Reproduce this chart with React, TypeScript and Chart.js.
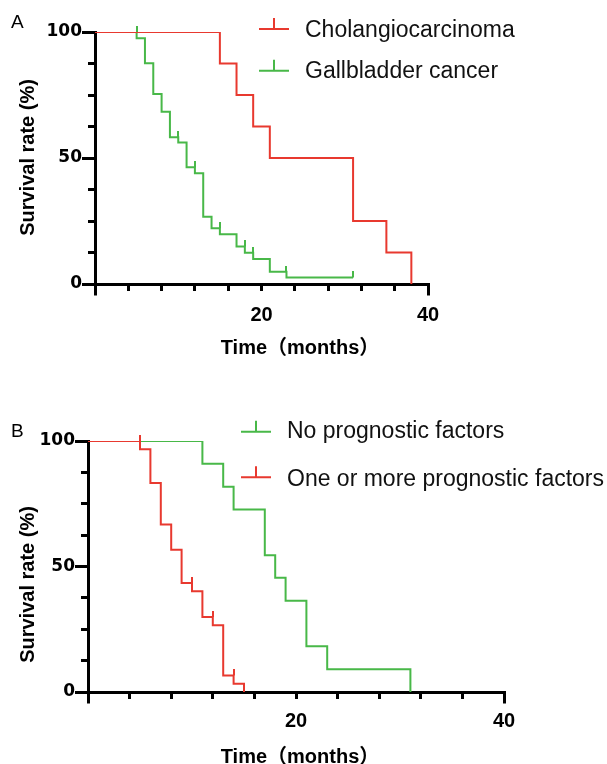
import React, { useEffect, useRef } from 'react';
import { Chart, registerables } from 'chart.js';

Chart.register(...registerables);

const RED = '#E8392F';
const GREEN = '#48B848';

// Shared axes
const X_MIN = 0;
const X_MAX = 40;
const X_STEP = 4;
const Y_MIN = 0;
const Y_MAX = 100;
const Y_STEP = 12.5;
const X_TICK_LABELS = [20, 40];
const Y_TICK_LABELS = [0, 50, 100];
const X_TITLE = 'Time（months）';
const Y_TITLE = 'Survival rate (%)';

// Panel A
const A_LETTER = 'A';
const A_CHOL_LABEL = 'Cholangiocarcinoma';
const A_CHOL_TIME = [0, 15, 17, 19, 21, 31, 35, 38];
const A_CHOL_SURV = [100, 87.5, 75, 62.5, 50, 25, 12.5, 0];
const A_CHOL_CENS_TIME: number[] = [];
const A_CHOL_CENS_SURV: number[] = [];

const A_GB_LABEL = 'Gallbladder cancer';
const A_GB_TIME = [0, 5, 6, 7, 8, 9, 10, 11, 12, 13, 14, 15, 17, 18, 19, 21, 23, 31];
const A_GB_SURV = [100, 97.5, 87.6, 75.4, 68.4, 58.2, 56.2, 46.3, 43.9, 26.7, 22.1, 19.7, 14.9, 12.4, 9.9, 4.9, 2.6, 2.6];
const A_GB_CENS_TIME = [5, 10, 12, 15, 18, 19, 23, 31];
const A_GB_CENS_SURV = [100, 58.2, 46.3, 22.1, 14.9, 12.4, 4.9, 2.6];

// Panel B
const B_LETTER = 'B';
const B_NONE_LABEL = 'No prognostic factors';
const B_NONE_TIME = [0, 11, 13, 14, 17, 18, 19, 21, 23, 31];
const B_NONE_SURV = [100, 90.9, 81.8, 72.7, 54.5, 45.5, 36.4, 18.2, 9.1, 0];
const B_NONE_CENS_TIME: number[] = [];
const B_NONE_CENS_SURV: number[] = [];

const B_ONE_LABEL = 'One or more prognostic factors';
const B_ONE_TIME = [0, 5, 6, 7, 8, 9, 10, 11, 12, 13, 14, 15];
const B_ONE_SURV = [100, 96.7, 83.3, 66.7, 56.7, 43.4, 40.1, 29.9, 26.6, 6.6, 3.3, 0];
const B_ONE_CENS_TIME = [5, 10, 12, 14];
const B_ONE_CENS_SURV = [100, 43.4, 29.9, 6.6];

type Series = { label: string; color: string; t: number[]; s: number[]; ct: number[]; cs: number[] };

const W = 607;
const TICK_FONT_X = '"Liberation Sans", Arial, sans-serif';
const TICK_FONT_Y = '"DejaVu Sans", "Liberation Sans", sans-serif';
const TITLE_FONT = 'bold 20px "Liberation Sans", "Noto Sans CJK SC", sans-serif';
const LEGEND_FONT = '23px "Liberation Sans", Arial, sans-serif';
const LETTER_FONT = '19px "Liberation Sans", Arial, sans-serif';

const LAYOUT_A = {
  top: 0,
  height: 380,
  area: { left: 95, top: 32, right: 428, bottom: 284 },
  xPad: 12,
  yPad: 6,
  yTitle: { x: 34.3, y: 157.5 },
  xTitle: { x: 300, y: 354 },
  letter: { x: 11, y: 28 },
  legend: { symX: 259, symW: 30, textX: 305, rows: [{ lineY: 29, textY: 36.5 }, { lineY: 70.7, textY: 78 }] },
};

const LAYOUT_B = {
  top: 380,
  height: 384,
  area: { left: 88, top: 61, right: 504, bottom: 312 },
  xPad: 10,
  yPad: 6,
  yTitle: { x: 33.5, y: 204.5 },
  xTitle: { x: 300, y: 383 },
  letter: { x: 11, y: 57 },
  legend: { symX: 241, symW: 30, textX: 287, rows: [{ lineY: 51.7, textY: 58.3 }, { lineY: 97.3, textY: 106 }] },
};

function censorImage(color: string) {
  const c = document.createElement('canvas');
  c.width = 2;
  c.height = 12;
  const g = c.getContext('2d')!;
  g.fillStyle = color;
  g.fillRect(0, 0, 2, 6);
  return c;
}

function decorPlugin(L: any, legendItems: { label: string; color: string }[], letter: string) {
  return {
    id: 'decor',
    afterDraw(chart: any) {
      const { ctx, chartArea: ca } = chart;
      const xs = chart.scales.x;
      const ys = chart.scales.y;
      const al = (p: number, w: number) => Math.round(p - w / 2) + w / 2;
      ctx.save();
      ctx.strokeStyle = '#000';
      ctx.lineWidth = 3;
      ctx.lineCap = 'butt';
      Y_TICK_LABELS.forEach((v) => {
        const p = al(ys.getPixelForValue(v), 3);
        ctx.beginPath();
        ctx.moveTo(ca.left - 13, p);
        ctx.lineTo(ca.left - 6, p);
        ctx.stroke();
      });
      [xs.min, xs.max].forEach((v: number) => {
        const p = al(xs.getPixelForValue(v), 3);
        ctx.beginPath();
        ctx.moveTo(p, ca.bottom + 6);
        ctx.lineTo(p, ca.bottom + 11.5);
        ctx.stroke();
      });
      ctx.fillStyle = '#000';
      ctx.font = TITLE_FONT;
      ctx.textAlign = 'center';
      ctx.textBaseline = 'alphabetic';
      ctx.save();
      ctx.translate(L.yTitle.x, L.yTitle.y);
      ctx.rotate(-Math.PI / 2);
      ctx.fillText(Y_TITLE, 0, 0);
      ctx.restore();
      ctx.fillText(X_TITLE, L.xTitle.x, L.xTitle.y);

      ctx.font = LETTER_FONT;
      ctx.textAlign = 'left';
      ctx.fillText(letter, L.letter.x, L.letter.y);

      ctx.font = LEGEND_FONT;
      legendItems.forEach((it, i) => {
        const r = L.legend.rows[i];
        ctx.strokeStyle = it.color;
        ctx.lineWidth = 2;
        ctx.beginPath();
        ctx.moveTo(L.legend.symX, r.lineY);
        ctx.lineTo(L.legend.symX + L.legend.symW, r.lineY);
        const cx = L.legend.symX + L.legend.symW / 2;
        ctx.moveTo(cx, r.lineY);
        ctx.lineTo(cx, r.lineY - 11);
        ctx.stroke();
        ctx.fillStyle = '#111';
        ctx.fillText(it.label, L.legend.textX, r.textY);
      });
      ctx.restore();
    },
  };
}

function KMPanel({ L, series, legendItems, letter }: { L: any; series: Series[]; legendItems: { label: string; color: string }[]; letter: string }) {
  const ref = useRef<HTMLCanvasElement | null>(null);
  useEffect(() => {
    const canvas = ref.current!;
    const datasets: any[] = [];
    series.forEach((s) => {
      datasets.push({
        type: 'line',
        label: s.label + ' censored',
        data: s.ct.map((t, i) => ({ x: t, y: s.cs[i] })),
        showLine: false,
        pointStyle: censorImage(s.color),
        pointRadius: 3,
        clip: false,
      });
    });
    series.forEach((s) => {
      datasets.push({
        type: 'line',
        label: s.label,
        data: s.t.map((t, i) => ({ x: t, y: s.s[i] })),
        stepped: true,
        borderColor: s.color,
        borderWidth: 2,
        pointRadius: 0,
        fill: false,
        tension: 0,
      });
    });
    const H = L.height;
    const chart = new Chart(canvas, {
      type: 'line',
      data: { datasets },
      options: {
        responsive: false,
        animation: false,
        devicePixelRatio: 1,
        events: [],
        layout: { padding: { top: L.area.top, right: W - L.area.right, left: 0, bottom: 0 } },
        plugins: { legend: { display: false }, tooltip: { enabled: false } },
        scales: {
          x: {
            type: 'linear',
            min: X_MIN,
            max: X_MAX,
            afterFit: (s: any) => {
              s.height = H - L.area.bottom;
            },
            border: { display: true, width: 3, color: '#000' },
            grid: { display: true, drawOnChartArea: false, drawTicks: true, tickLength: 7, lineWidth: 3, color: '#000' },
            ticks: {
              stepSize: X_STEP,
              autoSkip: false,
              maxRotation: 0,
              padding: L.xPad,
              color: '#000',
              font: { family: TICK_FONT_X, weight: 'bold', size: 20 },
              callback: (v: any) => (X_TICK_LABELS.includes(Number(v)) ? String(v) : ''),
            },
          },
          y: {
            type: 'linear',
            min: Y_MIN,
            max: Y_MAX,
            afterFit: (s: any) => {
              s.width = L.area.left;
            },
            border: { display: true, width: 3, color: '#000' },
            grid: { display: true, drawOnChartArea: false, drawTicks: true, tickLength: 7, lineWidth: 3, color: '#000' },
            ticks: {
              stepSize: Y_STEP,
              autoSkip: false,
              padding: L.yPad,
              color: '#000',
              font: { family: TICK_FONT_Y, weight: 'bold', size: 17 },
              callback: (v: any) => (Y_TICK_LABELS.includes(Number(v)) ? String(v) : ''),
            },
          },
        },
      } as any,
      plugins: [decorPlugin(L, legendItems, letter) as any],
    });
    return () => chart.destroy();
  }, []);
  return (
    <canvas
      ref={ref}
      width={W}
      height={L.height}
      style={{ position: 'absolute', left: 0, top: L.top, width: W, height: L.height, display: 'block' }}
    />
  );
}

const SERIES_A: Series[] = [
  { label: A_CHOL_LABEL, color: RED, t: A_CHOL_TIME, s: A_CHOL_SURV, ct: A_CHOL_CENS_TIME, cs: A_CHOL_CENS_SURV },
  { label: A_GB_LABEL, color: GREEN, t: A_GB_TIME, s: A_GB_SURV, ct: A_GB_CENS_TIME, cs: A_GB_CENS_SURV },
];
const LEGEND_A = [
  { label: A_CHOL_LABEL, color: RED },
  { label: A_GB_LABEL, color: GREEN },
];

const SERIES_B: Series[] = [
  { label: B_ONE_LABEL, color: RED, t: B_ONE_TIME, s: B_ONE_SURV, ct: B_ONE_CENS_TIME, cs: B_ONE_CENS_SURV },
  { label: B_NONE_LABEL, color: GREEN, t: B_NONE_TIME, s: B_NONE_SURV, ct: B_NONE_CENS_TIME, cs: B_NONE_CENS_SURV },
];
const LEGEND_B = [
  { label: B_NONE_LABEL, color: GREEN },
  { label: B_ONE_LABEL, color: RED },
];

export default function App() {
  return (
    <div style={{ position: 'absolute', left: 0, top: 0, width: W, height: 764, background: '#fff', overflow: 'hidden' }}>
      <KMPanel L={LAYOUT_A} series={SERIES_A} legendItems={LEGEND_A} letter={A_LETTER} />
      <KMPanel L={LAYOUT_B} series={SERIES_B} legendItems={LEGEND_B} letter={B_LETTER} />
    </div>
  );
}
